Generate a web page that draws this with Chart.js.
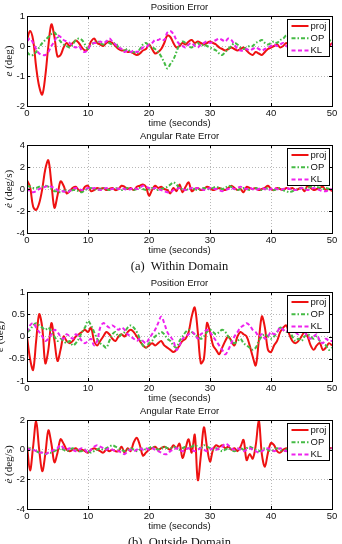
<!DOCTYPE html>
<html>
<head>
<meta charset="utf-8">
<script src="https://cdn.jsdelivr.net/npm/chart.js@4.4.1/dist/chart.umd.min.js"></script>
<style>
  body { margin: 0; background: #fff; }
  #wrap { position: relative; width: 342px; height: 544px; overflow: hidden; }
  canvas { position: absolute; left: 0; }
  .cap { position: absolute; left: 0; width: 359px; text-align: center;
         font: 12.5px "Liberation Serif", "Times New Roman", serif; color: #111; line-height: 14px; }
</style>
</head>
<body>
<div id="wrap">
  <canvas id="p1" width="342" height="132" style="top:0px"></canvas>
  <canvas id="p2" width="342" height="130" style="top:129px"></canvas>
  <canvas id="p3" width="342" height="131" style="top:276px"></canvas>
  <canvas id="p4" width="342" height="131" style="top:404px"></canvas>
  <div class="cap" style="top:259px">(a)&nbsp; Within Domain</div>
  <div class="cap" style="top:535px">(b)&nbsp; Outside Domain</div>
</div>
<script>
// sampling grid, seconds
const dt = 0.5;
const time = Array.from({ length: 101 }, (_, i) => i * dt);
const seriesNames = ['proj', 'OP', 'KL'];

// (a) within domain - position error (deg)
const posProjA = [
  0.2, 0.5, 0.2, -0.7, -1.35, -1.62, -1.0, 0.0, 0.72, 0.3,
  -0.35, -0.3, -0.05, 0.1, 0.0, 0.1, 0.18, 0.1, -0.05, -0.15,
  -0.1, 0.15, 0.25, 0.1, 0.05, 0.0, 0.1, 0.15, 0.1, 0.0,
  -0.1, -0.15, -0.15, -0.2, -0.2, -0.25, -0.3, -0.25, -0.15, -0.1,
  0.05, -0.1, -0.25, -0.2, -0.1, 0.1, 0.35, 0.3, 0.1, -0.05,
  0.0, 0.1, 0.05, 0.15, 0.2, 0.1, 0.15, 0.1, 0.05, 0.1,
  0.15, 0.1, 0.05, -0.05, -0.1, -0.15, -0.1, -0.05, -0.1, -0.15,
  -0.1, -0.05, -0.15, -0.25, -0.3, -0.2, -0.25, -0.3, -0.2, -0.1,
  -0.05, 0.0, 0.05, -0.05, 0.0, 0.1, 0.0, -0.05, 0.05, 0.1,
  0.0, -0.1, -0.05, 0.05, 0.1, 0.0, -0.05, 0.05, 0.1, 0.0,
  0.1
];
const posOpA = [
  -0.2, -0.3, -0.3, -0.2, -0.05, 0.1, 0.2, 0.3, 0.4, 0.45,
  0.3, 0.15, 0.05, 0.0, -0.05, 0.05, 0.2, 0.25, 0.2, 0.05,
  -0.1, 0.05, 0.1, 0.15, 0.1, 0.05, 0.15, 0.1, 0.05, 0.1,
  -0.05, -0.1, -0.15, -0.1, -0.2, -0.2, -0.25, -0.1, 0.05, 0.1,
  0.0, -0.05, -0.1, -0.2, -0.35, -0.55, -0.75, -0.6, -0.45, -0.2,
  0.05, 0.15, 0.1, 0.0, -0.05, 0.05, 0.1, 0.0, 0.05, 0.0,
  -0.05, -0.1, -0.15, -0.25, -0.3, -0.2, -0.1, 0.0, 0.1, 0.05,
  -0.05, -0.1, -0.05, 0.0, 0.0, 0.1, 0.15, 0.2, 0.1, 0.05,
  0.1, 0.15, 0.1, 0.2, 0.25, 0.35, 0.3, 0.2, 0.05, -0.05,
  -0.1, -0.2, -0.3, -0.35, -0.3, -0.15, 0.0, 0.1, 0.15, 0.2,
  0.15
];
const posKlA = [
  0.15, 0.25, 0.1, -0.1, -0.25, -0.3, -0.3, -0.2, 0.0, 0.15,
  0.35, 0.3, 0.2, 0.15, 0.1, 0.0, -0.05, 0.0, -0.15, -0.2,
  -0.1, 0.05, 0.1, 0.1, 0.15, 0.1, 0.15, 0.25, 0.15, 0.05,
  -0.05, -0.1, -0.2, -0.15, -0.2, -0.15, -0.2, -0.15, -0.05, -0.05,
  0.05, 0.1, 0.2, 0.2, 0.25, 0.2, 0.45, 0.5, 0.4, 0.2,
  0.05, 0.0, -0.05, 0.05, 0.1, 0.0, -0.05, 0.05, 0.1, 0.15,
  0.1, 0.15, 0.2, 0.25, 0.2, 0.15, 0.25, 0.2, 0.05, -0.1,
  -0.15, -0.15, -0.1, -0.15, -0.1, -0.05, -0.1, -0.15, -0.1, -0.05,
  0.0, 0.05, 0.0, 0.05, 0.1, 0.0, -0.05, 0.05, 0.1, 0.05,
  0.0, 0.05, 0.1, 0.05, 0.0, 0.05, 0.1, 0.05, 0.0, 0.05,
  0.05
];

// (a) within domain - angular rate error (deg/s)
const rateProjA = [
  0.8, 0.2, -1.6, -1.9, -1.3, 0.0, 1.8, 2.6, 0.5, -1.7,
  -0.6, 0.7, 0.3, -0.4, -0.2, 0.1, 0.2, -0.1, -0.2, 0.2,
  0.3, -0.2, -0.1, 0.1, 0.0, 0.1, -0.1, 0.0, 0.1, -0.1,
  0.0, 0.3, 0.2, 0.0, 0.1, -0.1, 0.2, 0.3, 0.4, 0.2,
  -0.6, -0.1, 0.3, 0.1, 0.2, 0.0, -0.1, -0.4, 0.1, -0.2,
  0.4, -0.3, 0.2, 0.6, -0.2, 0.0, 0.1, -0.1, 0.0, 0.2,
  0.1, -0.1, 0.0, 0.1, 0.0, -0.1, 0.1, 0.3, 0.1, -0.1,
  0.0, -0.3, 0.2, 0.1, 0.0, 0.1, -0.1, 0.0, 0.1, 0.3,
  0.0, -0.1, 0.1, 0.0, -0.1, 0.1, 0.0, 0.1, -0.1, 0.0,
  0.1, -0.2, 0.3, 0.1, -0.1, 0.0, 0.1, 0.2, -0.1, 0.0,
  -0.2
];
const rateOpA = [
  0.3, 0.2, 0.1, 0.1, 0.2, 0.2, 0.3, 0.2, 0.0, -0.2,
  -0.2, -0.3, -0.2, -0.1, -0.2, -0.1, -0.1, -0.2, -0.3, -0.1,
  0.0, 0.1, 0.0, -0.1, 0.0, 0.1, 0.0, -0.1, 0.0, 0.1,
  0.0, -0.1, 0.0, 0.1, 0.0, -0.1, 0.0, 0.1, 0.0, -0.1,
  0.0, 0.1, 0.0, -0.1, 0.0, 0.1, 0.2, 0.4, 0.6, 0.4,
  0.1, 0.0, -0.1, 0.0, 0.1, 0.0, -0.1, 0.0, 0.1, 0.0,
  0.0, 0.1, 0.2, 0.1, 0.0, 0.1, 0.3, 0.2, 0.0, -0.1,
  0.0, 0.1, 0.0, -0.1, 0.0, 0.1, 0.0, -0.1, 0.0, 0.1,
  0.0, -0.1, 0.0, 0.1, -0.1, -0.2, -0.3, -0.2, -0.1, 0.0,
  0.1, 0.0, 0.1, 0.2, 0.3, 0.2, 0.1, 0.0, 0.1, 0.0,
  0.0
];
const rateKlA = [
  0.1, -0.2, -0.3, -0.2, 0.0, 0.1, 0.2, 0.3, 0.2, 0.1,
  -0.1, -0.2, -0.2, -0.3, -0.2, 0.0, 0.1, 0.0, -0.1, 0.0,
  0.1, 0.0, 0.1, 0.0, -0.1, 0.0, 0.1, 0.0, 0.0, 0.1,
  0.0, 0.1, 0.0, -0.1, 0.0, 0.1, 0.0, 0.1, 0.3, 0.2,
  0.1, 0.0, 0.1, 0.0, -0.1, -0.2, -0.3, -0.3, -0.1, 0.0,
  0.1, 0.0, -0.1, 0.0, 0.1, 0.0, 0.1, 0.0, -0.1, 0.0,
  0.1, 0.0, 0.0, -0.1, -0.2, -0.1, 0.0, 0.1, 0.0, 0.1,
  0.2, 0.1, 0.0, 0.1, 0.0, -0.1, 0.0, 0.1, 0.0, -0.1,
  0.0, 0.1, 0.0, -0.1, 0.0, 0.1, 0.0, 0.0, -0.1, 0.0,
  0.1, 0.0, -0.1, 0.0, 0.1, 0.0, -0.1, -0.2, -0.2, -0.1,
  0.0
];

// (b) outside domain - position error (deg)
const posProjB = [
  0.0, -0.5, -0.75, -0.1, 0.5, 0.2, -0.6, -0.3, 0.3, -0.1,
  -0.55, -0.3, 0.0, -0.1, -0.15, -0.1, 0.0, 0.05, 0.1, 0.15,
  0.1, 0.2, -0.1, -0.2, -0.1, 0.0, 0.1, 0.05, -0.05, -0.1,
  0.0, 0.05, 0.0, 0.1, 0.15, 0.1, 0.0, -0.1, -0.2, -0.25,
  -0.2, -0.15, -0.2, -0.15, -0.1, -0.2, -0.25, -0.3, -0.35, -0.3,
  -0.2, -0.1, -0.05, 0.1, 0.45, 0.65, 0.1, -0.6, -0.5, 0.3,
  0.1, -0.2, -0.3, -0.4, -0.25, -0.1, 0.0, -0.1, -0.2, 0.0,
  0.1, 0.05, 0.0, -0.2, -0.45, -0.65, -0.1, 0.45, 0.2, -0.3,
  -0.35, -0.2, -0.1, 0.1, 0.2, 0.25, 0.05, -0.1, -0.15, -0.1,
  0.0, 0.1, 0.0, -0.2, -0.3, -0.2, -0.15, -0.3, -0.25, -0.15,
  -0.2
];
const posOpB = [
  0.1, 0.15, 0.25, 0.3, 0.25, 0.2, 0.15, 0.2, 0.1, 0.0,
  -0.1, -0.05, -0.1, -0.15, -0.1, -0.2, -0.15, -0.05, 0.1, 0.2,
  0.35, 0.25, 0.1, -0.05, -0.15, -0.2, -0.25, -0.1, 0.05, 0.1,
  0.0, 0.05, 0.1, 0.2, 0.25, 0.2, 0.1, -0.05, -0.2, -0.25,
  -0.15, -0.1, 0.0, 0.05, 0.1, 0.05, -0.05, -0.1, -0.2, -0.25,
  -0.1, 0.0, 0.1, 0.15, 0.1, 0.05, 0.0, -0.05, 0.0, 0.1,
  0.15, 0.1, 0.05, 0.1, 0.15, 0.1, 0.0, -0.1, -0.15, -0.1,
  -0.05, -0.15, -0.2, -0.25, -0.3, -0.25, -0.1, 0.0, 0.05, 0.0,
  -0.05, 0.0, 0.1, 0.2, 0.15, 0.1, 0.15, 0.0, -0.1, -0.05,
  -0.1, 0.0, 0.05, 0.0, -0.05, 0.0, -0.1, -0.15, -0.2, -0.3,
  -0.25
];
const posKlB = [
  0.1, 0.25, 0.3, 0.2, 0.1, 0.0, -0.1, -0.05, 0.05, 0.15,
  0.1, 0.0, -0.05, 0.05, 0.0, -0.05, 0.05, 0.0, -0.1, -0.15,
  -0.1, -0.05, -0.2, -0.1, 0.2, 0.3, 0.25, 0.2, 0.25, 0.2,
  0.15, 0.2, 0.15, 0.05, 0.0, -0.05, -0.1, -0.05, -0.1, -0.15,
  -0.05, 0.05, 0.15, 0.3, 0.45, 0.3, 0.1, 0.0, -0.1, -0.3,
  -0.2, -0.05, 0.0, 0.05, 0.1, 0.05, -0.05, 0.05, 0.1, 0.15,
  0.1, 0.0, -0.1, -0.2, -0.3, -0.4, -0.3, -0.15, 0.0, 0.1,
  0.2, 0.25, 0.3, 0.25, 0.15, 0.1, 0.0, 0.05, -0.05, 0.0,
  0.1, 0.05, 0.1, 0.2, 0.15, 0.1, 0.2, 0.15, 0.1, 0.05,
  0.15, 0.1, 0.0, -0.05, 0.0, 0.05, -0.1, -0.15, -0.05, -0.1,
  -0.1
];

// (b) outside domain - angular rate error (deg/s)
const rateProjB = [
  0.3, -1.4, 0.2, 1.9, 0.0, -1.45, -0.3, 1.3, 0.4, -0.85,
  -0.2, 0.7, 0.4, 0.0, -0.1, 0.0, 0.1, -0.1, 0.0, -0.1,
  -0.2, 0.0, 0.1, 0.0, -0.1, -0.2, 0.0, -0.1, 0.0, -0.1,
  -0.1, 0.2, -0.2, 0.1, -0.1, 0.5, 0.8, 0.3, -0.4, -0.2,
  0.0, 0.1, 0.2, 0.0, 0.1, 0.2, 0.1, 0.0, 0.3, 0.1,
  0.4, -0.55, 0.1, 0.7, -0.2, 1.0, -2.05, -0.4, 1.5, 0.2,
  -0.8, 0.0, 0.3, 0.2, 0.3, 0.1, 0.2, 0.0, 0.1, -0.1,
  0.2, 0.65, -0.7, -0.3, -0.6, 0.3, 2.0, -0.3, -1.15, -0.2,
  0.45, 0.3, -0.1, -0.2, 0.0, 0.1, 0.0, -0.1, 0.0, 0.1,
  0.0, -0.1, 0.1, 0.0, -0.1, 0.0, 0.1, 0.0, 0.0, 0.1,
  0.1
];
const rateOpB = [
  0.0, 0.1, 0.0, -0.1, -0.2, -0.2, -0.3, -0.2, -0.2, -0.1,
  0.0, 0.1, 0.0, -0.1, 0.0, 0.1, 0.0, -0.1, -0.1, 0.0,
  -0.1, -0.2, -0.1, 0.0, 0.1, 0.0, 0.1, 0.2, 0.3, 0.2,
  0.1, 0.0, -0.1, 0.0, 0.1, 0.0, -0.1, 0.0, 0.1, 0.0,
  0.1, 0.2, 0.1, 0.0, 0.1, 0.2, 0.1, 0.1, 0.2, 0.1,
  0.0, 0.1, 0.2, 0.1, 0.2, 0.3, 0.2, 0.1, 0.3, 0.2,
  0.1, 0.0, 0.1, 0.0, -0.1, 0.0, 0.1, 0.0, -0.1, 0.0,
  0.1, 0.0, 0.1, 0.2, 0.1, 0.0, -0.1, 0.0, 0.1, 0.0,
  -0.1, 0.0, 0.1, 0.0, -0.1, 0.0, 0.1, 0.0, 0.0, 0.1,
  0.0, -0.1, 0.0, 0.1, 0.0, 0.1, 0.0, -0.1, 0.0, 0.1,
  0.0
];
const rateKlB = [
  0.1, 0.0, 0.0, -0.1, -0.2, -0.2, -0.3, -0.2, -0.1, 0.0,
  0.1, 0.3, 0.1, 0.0, 0.1, 0.0, -0.1, 0.0, 0.1, 0.0,
  -0.2, 0.0, 0.2, 0.3, 0.2, 0.1, 0.0, 0.1, 0.0, -0.1,
  -0.1, -0.2, -0.3, -0.1, 0.0, -0.1, 0.0, 0.1, 0.0, 0.1,
  0.0, 0.1, 0.0, -0.1, -0.2, -0.3, -0.3, -0.1, 0.0, 0.1,
  0.0, -0.1, 0.0, 0.1, 0.0, -0.1, 0.0, 0.1, 0.0, -0.1,
  0.0, 0.1, 0.0, 0.1, 0.2, 0.4, 0.3, 0.1, 0.0, 0.1,
  0.0, -0.1, 0.0, 0.1, 0.0, -0.1, -0.2, -0.1, 0.0, 0.1,
  0.0, -0.1, 0.0, 0.1, 0.0, -0.1, 0.0, 0.0, 0.1, 0.0,
  -0.1, 0.0, 0.1, 0.0, -0.1, 0.0, 0.1, 0.0, 0.1, 0.0,
  0.1
];

const lineColors = ['#ee1111', '#44bb44', '#ee22ee'];
const lineDashes = [[], [4, 2, 1.5, 2], [4, 2.5]];
const sans = '"Liberation Sans", Arial, sans-serif';
const serif = '"Liberation Serif", "Times New Roman", serif';

// draws title, axis labels, box, inward ticks and legend
function framePlugin(cfg) {
  return {
    id: 'frame',
    afterDraw(chart) {
      const { ctx, chartArea: a, scales } = chart;
      const midX = (a.left + a.right) / 2;
      const midY = (a.top + a.bottom) / 2;
      ctx.save();
      ctx.fillStyle = '#111';
      ctx.textAlign = 'center';
      ctx.textBaseline = 'middle';
      ctx.font = '9.5px ' + sans;
      ctx.fillText(cfg.title, midX, a.top - 9);
      ctx.fillText('time (seconds)', midX, a.bottom + 17);

      // y label: italic symbol + unit
      ctx.save();
      ctx.translate(cfg.ylabelX, midY);
      ctx.rotate(-Math.PI / 2);
      ctx.font = 'italic 11px ' + serif;
      const w1 = ctx.measureText(cfg.sym).width;
      ctx.font = '11px ' + serif;
      const w2 = ctx.measureText(' ' + cfg.unit).width;
      ctx.textAlign = 'left';
      ctx.font = 'italic 11px ' + serif;
      ctx.fillText(cfg.sym, -(w1 + w2) / 2, 0);
      ctx.font = '11px ' + serif;
      ctx.fillText(' ' + cfg.unit, -(w1 + w2) / 2 + w1, 0);
      ctx.restore();

      // inward ticks
      ctx.strokeStyle = '#000';
      ctx.lineWidth = 1;
      ctx.beginPath();
      scales.x.ticks.forEach(t => {
        const px = Math.round(scales.x.getPixelForValue(t.value)) + 0.5;
        ctx.moveTo(px, a.bottom); ctx.lineTo(px, a.bottom - 3);
        ctx.moveTo(px, a.top); ctx.lineTo(px, a.top + 3);
      });
      scales.y.ticks.forEach(t => {
        const py = Math.round(scales.y.getPixelForValue(t.value)) + 0.5;
        ctx.moveTo(a.left, py); ctx.lineTo(a.left + 3, py);
        ctx.moveTo(a.right, py); ctx.lineTo(a.right - 3, py);
      });
      ctx.stroke();
      ctx.strokeRect(Math.round(a.left) + 0.5, Math.round(a.top) + 0.5,
        Math.round(a.right - a.left), Math.round(a.bottom - a.top));

      // legend box
      const bx = Math.round(a.right - 45) + 0.5;
      const by = Math.round(a.top + 3) + 0.5;
      ctx.fillStyle = '#fff';
      ctx.fillRect(bx, by, 42, 37);
      ctx.strokeRect(bx, by, 42, 37);
      chart.data.datasets.forEach((ds, k) => {
        const ly = by + 6.5 + 12.2 * k;
        ctx.save();
        ctx.strokeStyle = ds.borderColor;
        ctx.lineWidth = 2;
        ctx.setLineDash(ds.borderDash);
        ctx.beginPath();
        ctx.moveTo(bx + 4, ly); ctx.lineTo(bx + 21, ly);
        ctx.stroke();
        ctx.restore();
        ctx.fillStyle = '#111';
        ctx.font = '9.5px ' + sans;
        ctx.textAlign = 'left';
        ctx.fillText(ds.label, bx + 23, ly);
      });
      ctx.restore();
    }
  };
}

function makePanel(id, cfg) {
  const datasets = cfg.series.map((vals, k) => ({
    label: seriesNames[k],
    data: vals.map((v, i) => ({ x: time[i], y: v })),
    borderColor: lineColors[k],
    borderWidth: 2,
    borderDash: lineDashes[k],
    pointRadius: 0,
    tension: 0.35,
    fill: false,
    order: 2 - k
  }));
  const gridCfg = { color: '#b8b8b8', lineWidth: 1, drawTicks: false };
  const tickFont = { family: sans, size: 9.5 };
  new Chart(document.getElementById(id), {
    type: 'line',
    data: { datasets },
    options: {
      responsive: false,
      animation: false,
      devicePixelRatio: 1,
      layout: { padding: { top: 16, right: 10, bottom: 0, left: 0 } },
      plugins: { legend: { display: false }, tooltip: { enabled: false }, title: { display: false } },
      scales: {
        x: {
          type: 'linear', min: 0, max: 50,
          ticks: { stepSize: 10, padding: 2, maxRotation: 0, color: '#111', font: tickFont },
          grid: gridCfg,
          border: { display: false, dash: [1, 2] },
          afterFit: s => { s.height = 26; }
        },
        y: {
          min: cfg.yMin, max: cfg.yMax,
          ticks: { stepSize: cfg.yStep, padding: 2, color: '#111', font: tickFont,
                   callback: v => String(v) },
          grid: gridCfg,
          border: { display: false, dash: [1, 2] },
          afterFit: s => { s.width = 27; }
        }
      }
    },
    plugins: [framePlugin(cfg)]
  });
}

makePanel('p1', { title: 'Position Error', sym: 'e', unit: '(deg)', ylabelX: 9,
  yMin: -2, yMax: 1, yStep: 1, series: [posProjA, posOpA, posKlA] });
makePanel('p2', { title: 'Angular Rate Error', sym: 'ė', unit: '(deg/s)', ylabelX: 9,
  yMin: -4, yMax: 4, yStep: 2, series: [rateProjA, rateOpA, rateKlA] });
makePanel('p3', { title: 'Position Error', sym: 'e', unit: '(deg)', ylabelX: 0.5,
  yMin: -1, yMax: 1, yStep: 0.5, series: [posProjB, posOpB, posKlB] });
makePanel('p4', { title: 'Angular Rate Error', sym: 'ė', unit: '(deg/s)', ylabelX: 9,
  yMin: -4, yMax: 2, yStep: 2, series: [rateProjB, rateOpB, rateKlB] });
</script>
</body>
</html>
